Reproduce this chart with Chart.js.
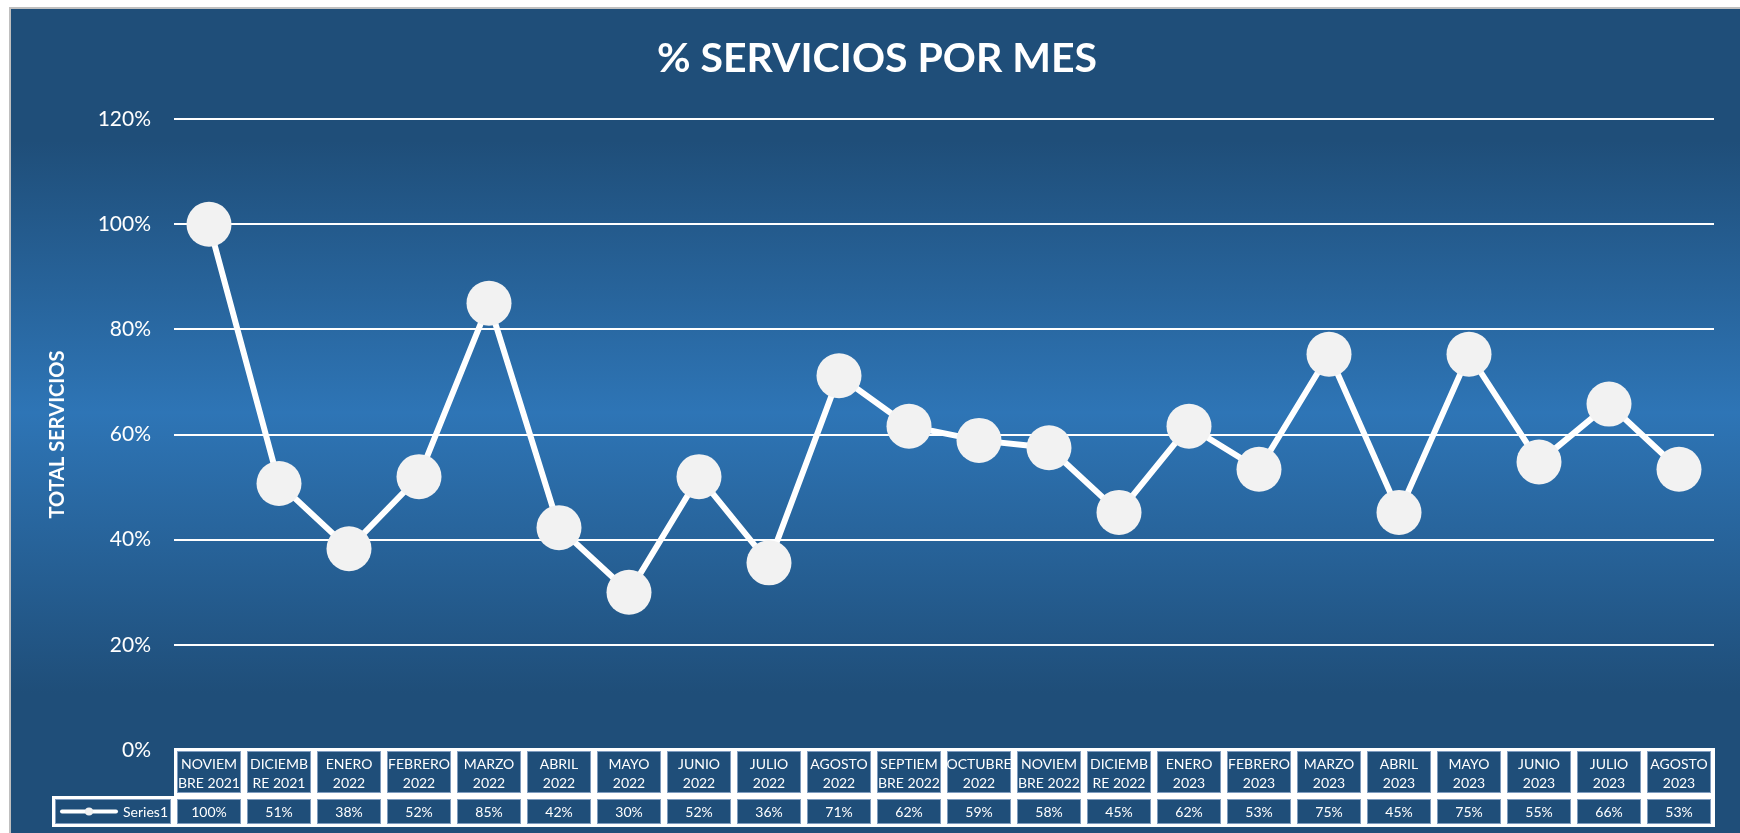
<!DOCTYPE html>
<html>
<head>
<meta charset="utf-8">
<title>% SERVICIOS POR MES</title>
<script src="https://cdn.jsdelivr.net/npm/chart.js@4.4.0/dist/chart.umd.min.js"></script>
<style>
    html, body { margin: 0; padding: 0; background: #ffffff; }
    #wrap { position: relative; width: 1740px; height: 833px; overflow: hidden; }
    #panel {
        position: absolute; left: 9px; top: 7px; width: 1731px; height: 826px;
        box-sizing: border-box;
        border-top: 2px solid #bfbfbf; border-left: 2px solid #bfbfbf;
        background: linear-gradient(to bottom, #1f4e79 0%, #1f4e79 16%, #2e75b6 49%, #1f4e79 83%, #1f4e79 100%);
    }
    #chart-box { position: absolute; left: 0; top: 0; width: 1740px; height: 833px; }
</style>
</head>
<body>
<div id="wrap">
    <div id="panel"></div>
    <div id="chart-box"><canvas id="servicios-chart"></canvas></div>
</div>
<script>
// Months (two lines, as they wrap in the data table)
const months = [
    ['NOVIEM', 'BRE 2021'], ['DICIEMB', 'RE 2021'], ['ENERO', '2022'], ['FEBRERO', '2022'],
    ['MARZO', '2022'], ['ABRIL', '2022'], ['MAYO', '2022'], ['JUNIO', '2022'],
    ['JULIO', '2022'], ['AGOSTO', '2022'], ['SEPTIEM', 'BRE 2022'], ['OCTUBRE', '2022'],
    ['NOVIEM', 'BRE 2022'], ['DICIEMB', 'RE 2022'], ['ENERO', '2023'], ['FEBRERO', '2023'],
    ['MARZO', '2023'], ['ABRIL', '2023'], ['MAYO', '2023'], ['JUNIO', '2023'],
    ['JULIO', '2023'], ['AGOSTO', '2023']
];

// % of services per month
const series1 = [100, 50.7, 38.3, 52, 85, 42.3, 30, 52, 35.6, 71.2, 61.6, 58.9,
                 57.5, 45.2, 61.6, 53.4, 75.3, 45.2, 75.3, 54.8, 65.8, 53.4];

const seriesName = 'Series1';
const yTicks = [0, 20, 40, 60, 80, 100, 120];

const FONT = 'Lato, "Open Sans", sans-serif';

// Draws the Excel style data table under the plot, one column per category
const dataTablePlugin = {
    id: 'dataTable',
    afterDraw(chart) {
        const ctx = chart.ctx;
        const x = chart.scales.x;
        const area = chart.chartArea;
        const n = months.length;
        const colW = (area.right - area.left) / n;

        const headTop = area.bottom - 2;
        const headBottom = headTop + 48;
        const rowBottom = headBottom + 31;
        const legendLeft = 52;
        const inset = 3;

        ctx.save();

        // white frame
        ctx.fillStyle = '#ffffff';
        ctx.fillRect(area.left, headTop, area.right - area.left + 1, rowBottom - headTop);
        ctx.fillRect(legendLeft, headBottom, area.left - legendLeft, rowBottom - headBottom);

        const cell = (l, t, r, b) => {
            ctx.fillStyle = '#1f4e79';
            ctx.fillRect(l + inset, t + inset, r - l - inset * 2, b - t - inset * 2);
            ctx.strokeStyle = '#7f9cbf';
            ctx.lineWidth = 1;
            ctx.strokeRect(l + inset + 0.5, t + inset + 0.5, r - l - inset * 2 - 1, b - t - inset * 2 - 1);
        };

        ctx.textAlign = 'center';
        ctx.textBaseline = 'middle';
        ctx.font = '14px ' + FONT;

        months.forEach((lines, i) => {
            const cx = x.getPixelForValue(i);
            const l = cx - colW / 2;
            const r = cx + colW / 2;
            cell(l, headTop, r, headBottom);
            cell(l, headBottom, r, rowBottom);

            ctx.fillStyle = '#ffffff';
            ctx.fillText(lines[0], cx, headTop + 16);
            ctx.fillText(lines[1], cx, headTop + 35);
            ctx.fillText(Math.round(series1[i]) + '%', cx, (headBottom + rowBottom) / 2 + 1);
        });

        // legend key cell
        cell(legendLeft, headBottom, area.left, rowBottom);
        const ly = (headBottom + rowBottom) / 2;
        ctx.strokeStyle = '#ffffff';
        ctx.lineWidth = 4;
        ctx.lineCap = 'round';
        ctx.beginPath();
        ctx.moveTo(62, ly);
        ctx.lineTo(116, ly);
        ctx.stroke();
        ctx.fillStyle = '#f2f2f2';
        ctx.beginPath();
        ctx.arc(89, ly, 4, 0, Math.PI * 2);
        ctx.fill();
        ctx.fillStyle = '#ffffff';
        ctx.textAlign = 'right';
        ctx.fillText(seriesName, area.left - 6, ly + 1);

        ctx.restore();
    }
};

const ctx = document.getElementById('servicios-chart').getContext('2d');
const chart = new Chart(ctx, {
    type: 'line',
    data: {
        labels: months,
        datasets: [{
            label: seriesName,
            data: series1,
            borderColor: '#ffffff',
            borderWidth: 6,
            pointRadius: 22.5,
            pointHoverRadius: 22.5,
            pointBackgroundColor: '#f2f2f2',
            pointBorderColor: '#f2f2f2',
            pointBorderWidth: 0,
            tension: 0
        }]
    },
    options: {
        responsive: true,
        maintainAspectRatio: false,
        animation: false,
        layout: {
            padding: { left: 40, right: 26, top: 0, bottom: 83 }
        },
        plugins: {
            legend: { display: false },
            tooltip: { enabled: false },
            title: {
                display: true,
                text: '% SERVICIOS POR MES',
                color: '#ffffff',
                font: { family: FONT, size: 41, weight: 'bold' },
                padding: { top: 34, bottom: 36 }
            }
        },
        scales: {
            x: {
                display: false,
                offset: true
            },
            y: {
                min: 0,
                max: 120,
                afterFit: (scale) => { scale.width = 134; },
                afterBuildTicks: (scale) => { scale.ticks = yTicks.map(v => ({ value: v })); },
                ticks: {
                    color: '#ffffff',
                    padding: 23,
                    font: { family: FONT, size: 21 },
                    callback: (v) => v + '%'
                },
                grid: {
                    color: '#ffffff',
                    lineWidth: 2,
                    drawTicks: false
                },
                border: { display: false },
                title: {
                    display: true,
                    text: 'TOTAL SERVICIOS',
                    color: '#ffffff',
                    font: { family: FONT, size: 20, weight: 'bold' },
                    padding: { top: 6, bottom: 0 }
                }
            }
        }
    },
    plugins: [dataTablePlugin]
});
</script>
</body>
</html>
